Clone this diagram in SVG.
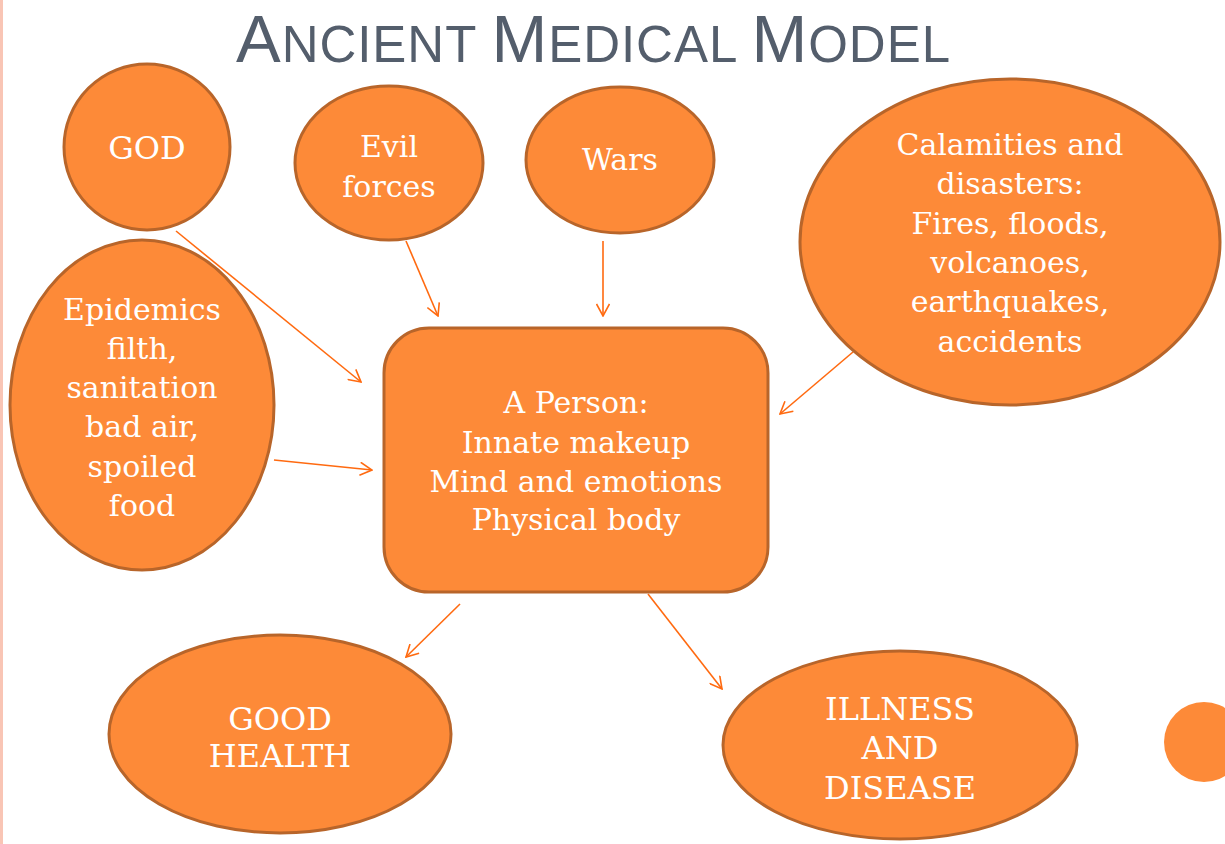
<svg xmlns="http://www.w3.org/2000/svg" width="1225" height="844" viewBox="0 0 1225 844">
<defs>
<style>
.node{fill:#FD8A38;stroke:#B8652A;stroke-width:3}
.lbl{font-family:"DejaVu Serif","Liberation Serif",serif;font-size:30px;fill:#FFFFFF;text-anchor:middle}
.caps{font-size:32px}
.title{font-family:"Liberation Sans",Arial,sans-serif;fill:#545E6C}
.conn line{stroke:#FF6A10;stroke-width:1.6;fill:none}
</style>
<marker id="arr" viewBox="0 0 14 14" refX="13" refY="7" markerWidth="14" markerHeight="14" markerUnits="userSpaceOnUse" orient="auto">
<path d="M1,0.5 L13,7 L1,13.5" fill="none" stroke="#FF6A10" stroke-width="1.6"/>
</marker>
</defs>
<rect x="0" y="0" width="1225" height="844" fill="#FFFFFF"/>
<rect x="0" y="0" width="3" height="844" fill="#F9C5B5"/>
<circle cx="1204" cy="742" r="40" fill="#FD8A38"/>
<text class="title" x="236" y="62" textLength="714" lengthAdjust="spacing"><tspan font-size="67">A</tspan><tspan font-size="51">NCIENT </tspan><tspan font-size="67">M</tspan><tspan font-size="51">EDICAL </tspan><tspan font-size="67">M</tspan><tspan font-size="51">ODEL</tspan></text>
<g class="conn">
<line x1="176" y1="231" x2="361" y2="382" marker-end="url(#arr)"/>
<line x1="406" y1="241" x2="438" y2="316" marker-end="url(#arr)"/>
<line x1="603" y1="241" x2="603" y2="316" marker-end="url(#arr)"/>
<line x1="853" y1="352" x2="780" y2="414" marker-end="url(#arr)"/>
<line x1="274" y1="460" x2="372" y2="470" marker-end="url(#arr)"/>
<line x1="460" y1="604" x2="406" y2="657" marker-end="url(#arr)"/>
<line x1="648" y1="594" x2="722" y2="689" marker-end="url(#arr)"/>
</g>
<g id="god"><circle class="node" cx="147" cy="147" r="83"/><text class="lbl caps" x="147" y="159">GOD</text></g>
<g id="evil"><ellipse class="node" cx="389" cy="163" rx="94" ry="77"/><text class="lbl" x="389" y="157">Evil</text><text class="lbl" x="389" y="197">forces</text></g>
<g id="wars"><ellipse class="node" cx="620" cy="160" rx="94" ry="73"/><text class="lbl" x="620" y="170">Wars</text></g>
<g id="calamities"><ellipse class="node" cx="1010" cy="242" rx="210" ry="163"/>
<text class="lbl" x="1010" y="155">Calamities and</text><text class="lbl" x="1010" y="194">disasters:</text><text class="lbl" x="1010" y="234">Fires, floods,</text><text class="lbl" x="1010" y="273">volcanoes,</text><text class="lbl" x="1010" y="312">earthquakes,</text><text class="lbl" x="1010" y="352">accidents</text></g>
<g id="epidemics"><ellipse class="node" cx="142" cy="405" rx="132" ry="165"/>
<text class="lbl" x="142" y="320">Epidemics</text><text class="lbl" x="142" y="359">filth,</text><text class="lbl" x="142" y="398">sanitation</text><text class="lbl" x="142" y="437">bad air,</text><text class="lbl" x="142" y="477">spoiled</text><text class="lbl" x="142" y="516">food</text></g>
<g id="person"><rect class="node" x="384" y="328" width="384" height="264" rx="45" ry="45"/>
<text class="lbl" x="576" y="413">A Person:</text><text class="lbl" x="576" y="453">Innate makeup</text><text class="lbl" x="576" y="492">Mind and emotions</text><text class="lbl" x="576" y="530">Physical body</text></g>
<g id="goodhealth"><ellipse class="node" cx="280" cy="734" rx="171" ry="99"/>
<text class="lbl caps" x="280" y="730">GOOD</text><text class="lbl caps" x="280" y="767">HEALTH</text></g>
<g id="illness"><ellipse class="node" cx="900" cy="745" rx="177" ry="94"/>
<text class="lbl caps" x="900" y="720">ILLNESS</text><text class="lbl caps" x="900" y="759">AND</text><text class="lbl caps" x="900" y="799">DISEASE</text></g>
</svg>
